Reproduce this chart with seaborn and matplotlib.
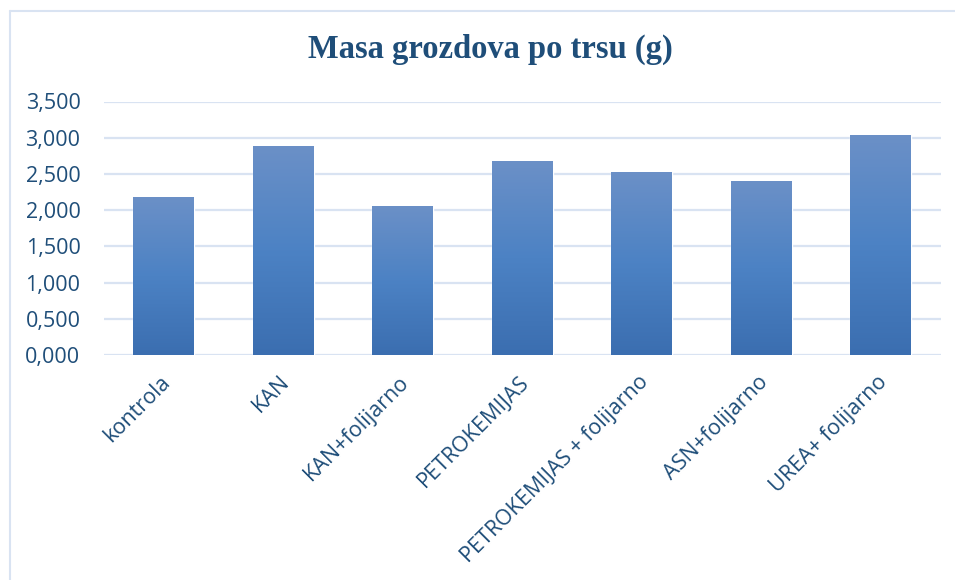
import numpy as np
import pandas as pd
import matplotlib
matplotlib.use('Agg')
import matplotlib.pyplot as plt
from matplotlib.colors import LinearSegmentedColormap
from matplotlib.lines import Line2D
from matplotlib.transforms import ScaledTranslation
import seaborn as sns

categories = ['kontrola', 'KAN', 'KAN+folijarno', 'PETROKEMIJAS',
              'PETROKEMIJAS + folijarno', 'ASN+folijarno', 'UREA+ folijarno']
masa = [2.18, 2.884, 2.056, 2.677, 2.525, 2.40, 3.035]
y_ticks = [0, 0.5, 1.0, 1.5, 2.0, 2.5, 3.0, 3.5]

text_col = '#1f4e79'
grid_col = '#d9e3f2'

sns.set_theme(style='white')
plt.rcParams['font.family'] = ['Open Sans', 'DejaVu Sans']

df = pd.DataFrame({'tretman': categories, 'masa': masa})

fig = plt.figure(figsize=(9.55, 5.8), dpi=100)
ax = fig.add_axes([0.109, 0.388, 0.876, 0.437])

sns.barplot(data=df, x='tretman', y='masa', color='#4f83c5', width=0.51,
            saturation=1, ax=ax, zorder=3)

# gradient fill inside each bar
cmap = LinearSegmentedColormap.from_list('grad', ['#3b6eb0', '#4c82c4', '#6b90c7'])
grad = np.linspace(0, 1, 256).reshape(-1, 1)
for bar in ax.patches:
    x0, y0 = bar.get_x(), bar.get_y()
    w, h = bar.get_width(), bar.get_height()
    im = ax.imshow(grad, cmap=cmap, aspect='auto', origin='lower',
                   extent=[x0, x0 + w, y0, y0 + h], zorder=4)
    im.set_clip_path(bar)

ax.set_xlim(-0.5, len(categories) - 0.5)
ax.set_ylim(0, 3.5)
ax.set_yticks(y_ticks)
ax.set_yticklabels([f'{v:.3f}'.replace('.', ',') for v in y_ticks])
ax.yaxis.grid(True, color=grid_col, linewidth=1.6, zorder=0)
ax.set_axisbelow(True)
for s in ax.spines.values():
    s.set_visible(False)

ax.set_xlabel('')
ax.set_ylabel('')
ax.tick_params(axis='y', length=0, pad=17, labelsize=15.5, labelcolor=text_col)
ax.tick_params(axis='x', length=0, pad=12, labelsize=15.5, labelcolor=text_col)
plt.setp(ax.get_xticklabels(), rotation=45, ha='right', rotation_mode='anchor')
# nudge the slanted labels a little to the left
offset = ScaledTranslation(-4 / 100, 0, fig.dpi_scale_trans)
for lbl in ax.get_xticklabels():
    lbl.set_transform(lbl.get_transform() + offset)

fig.text(0.513, 0.914, 'Masa grozdova po trsu (g)', ha='center', va='center',
         fontsize=23.5, fontweight='bold', color=text_col,
         family=['Liberation Serif', 'DejaVu Serif'])

# light chart frame (left and top edges visible)
fig.add_artist(Line2D([0.0100, 0.0100], [0.0, 0.981], color=grid_col, linewidth=1.5))
fig.add_artist(Line2D([0.0100, 1.0], [0.981, 0.981], color=grid_col, linewidth=1.5))

fig.savefig('out.png', dpi=100)
